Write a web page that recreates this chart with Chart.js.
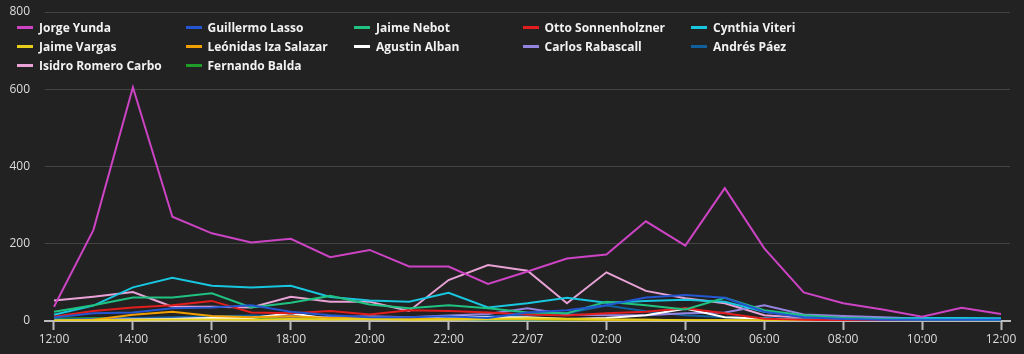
<!DOCTYPE html>
<html>
<head>
<meta charset="utf-8">
<script src="https://cdn.jsdelivr.net/npm/chart.js@4/dist/chart.umd.min.js"></script>
<style>
  html, body { margin: 0; padding: 0; background: #222222; }
  #wrap { position: relative; width: 1024px; height: 354px; }
  #legend {
    position: absolute; left: 17px; top: 18px;
    display: grid; grid-template-columns: repeat(5, 168.5px);
    font-family: "Open Sans", sans-serif; font-weight: 700; font-size: 12px; color: #f2f2f2;
  }
  #legend .item { display: flex; align-items: center; height: 19px; white-space: nowrap; }
  #legend .swatch { width: 16px; height: 3px; margin-right: 6px; }
</style>
</head>
<body>
<div id="wrap">
  <canvas id="votesChart" width="1024" height="354"></canvas>
  <div id="legend"></div>
</div>
<script>
// hourly points, 12:00 on 21/07 to 12:00 on 22/07
const hours = [0, 1, 2, 3, 4, 5, 6, 7, 8, 9, 10, 11, 12, 13, 14, 15, 16, 17, 18, 19, 20, 21, 22, 23, 24];
const tickLabels = ['12:00', '14:00', '16:00', '18:00', '20:00', '22:00', '22/07', '02:00', '04:00', '06:00', '08:00', '10:00', '12:00'];
const yTicks = [0, 200, 400, 600, 800];

const candidates = ['Jorge Yunda', 'Guillermo Lasso', 'Jaime Nebot', 'Otto Sonnenholzner', 'Cynthia Viteri',
  'Jaime Vargas', 'Leónidas Iza Salazar', 'Agustin Alban', 'Carlos Rabascall', 'Andrés Páez',
  'Isidro Romero Carbo', 'Fernando Balda'];
const colors = ['#cc44c4', '#2356d0', '#1fc280', '#e21d1d', '#18c6e0',
  '#e6cf1a', '#f0a000', '#ffffff', '#9484e0', '#11609e',
  '#e8a2d6', '#1e9e28'];

const jorgeYunda = [37, 236, 605, 270, 227, 203, 213, 165, 184, 141, 141, 96, 128, 162, 172, 258, 195, 344, 188, 74, 46, 30, 11, 34, 18];
const guillermoLasso = [9, 20, 22, 33, 35, 41, 24, 15, 10, 10, 12, 8, 22, 28, 41, 61, 67, 60, 24, 10, 5, 3, 3, 3, 3];
const jaimeNebot = [24, 41, 61, 61, 72, 35, 47, 65, 43, 33, 41, 33, 22, 20, 50, 41, 30, 60, 28, 15, 8, 5, 3, 3, 2];
const ottoSonnenholzner = [11, 26, 35, 41, 52, 22, 20, 26, 17, 28, 26, 22, 17, 14, 20, 24, 33, 20, 6, 3, 2, 1, 1, 1, 0];
const cynthiaViteri = [16, 40, 87, 112, 91, 87, 91, 62, 53, 50, 73, 35, 46, 60, 47, 52, 55, 50, 24, 13, 7, 6, 8, 8, 7];
const jaimeVargas = [1, 2, 3, 4, 4, 3, 5, 4, 5, 3, 4, 5, 7, 6, 4, 3, 2, 2, 1, 1, 0, 0, 0, 0, 0];
const leonidasIza = [0, 3, 16, 24, 13, 10, 12, 8, 9, 6, 5, 6, 5, 4, 3, 3, 2, 2, 1, 1, 0, 0, 0, 0, 0];
const agustinAlban = [0, 2, 3, 5, 8, 8, 20, 5, 10, 5, 12, 10, 10, 5, 8, 15, 32, 10, 6, 3, 2, 1, 1, 1, 1];
const carlosRabascall = [2, 4, 5, 6, 8, 10, 12, 10, 12, 10, 14, 18, 33, 17, 15, 15, 20, 22, 41, 17, 13, 10, 6, 5, 5];
const andresPaez = [3, 6, 8, 10, 12, 14, 12, 10, 8, 8, 10, 12, 15, 20, 40, 25, 15, 10, 8, 5, 3, 3, 3, 3, 3];
const isidroRomeroCarbo = [53, 63, 75, 37, 37, 35, 63, 50, 50, 26, 106, 145, 130, 46, 126, 78, 59, 46, 15, 8, 3, 2, 1, 1, 1];
const fernandoBalda = [6, 8, 8, 8, 8, 7, 6, 6, 5, 5, 5, 4, 4, 3, 3, 2, 2, 1, 1, 0, 0, 0, 0, 0, 0];

const seriesValues = [jorgeYunda, guillermoLasso, jaimeNebot, ottoSonnenholzner, cynthiaViteri,
  jaimeVargas, leonidasIza, agustinAlban, carlosRabascall, andresPaez, isidroRomeroCarbo, fernandoBalda];

const datasets = candidates.map((name, i) => ({
  label: name,
  data: seriesValues[i].map((v, j) => ({ x: hours[j], y: v })),
  borderColor: colors[i],
  backgroundColor: colors[i],
  borderWidth: 2,
  pointRadius: 0,
  tension: 0,
  fill: false
}));

Chart.defaults.font.family = '"Open Sans", sans-serif';
Chart.defaults.font.size = 12;
Chart.defaults.color = '#dddddd';

const chart = new Chart(document.getElementById('votesChart').getContext('2d'), {
  type: 'line',
  data: { datasets: datasets },
  options: {
    responsive: false,
    animation: false,
    layout: { padding: { top: 12, right: 14, bottom: 0, left: 0 } },
    plugins: {
      legend: { display: false },
      tooltip: { enabled: false }
    },
    scales: {
      x: {
        type: 'linear',
        min: -0.228,
        max: 24.228,
        afterFit: (scale) => { scale.height = 33; },
        afterBuildTicks: (scale) => {
          scale.ticks = tickLabels.map((_, i) => ({ value: i * 2 }));
        },
        ticks: {
          autoSkip: false,
          maxRotation: 0,
          padding: 2,
          color: '#dddddd',
          callback: (value) => tickLabels[value / 2]
        },
        grid: {
          drawOnChartArea: false,
          drawTicks: true,
          tickLength: 9,
          tickWidth: 2,
          tickColor: '#bbbbbb'
        },
        border: { display: true, color: '#bbbbbb', width: 2 }
      },
      y: {
        min: 0,
        max: 800,
        afterFit: (scale) => {
          scale.width = 45;
          // tick padding would otherwise push the plot top down
          scale.paddingTop = 0;
          scale.paddingBottom = 0;
        },
        afterBuildTicks: (scale) => {
          scale.ticks = yTicks.map(v => ({ value: v }));
        },
        ticks: { padding: 15, color: '#dddddd' },
        grid: { color: '#444444', lineWidth: 1, drawTicks: false },
        border: { display: false }
      }
    }
  }
});

// html legend laid out in columns
const legendBox = document.getElementById('legend');
chart.data.datasets.forEach((ds) => {
  const item = document.createElement('div');
  item.className = 'item';
  item.innerHTML = `<span class="swatch" style="background:${ds.borderColor}"></span><span>${ds.label}</span>`;
  legendBox.appendChild(item);
});
</script>
</body>
</html>
